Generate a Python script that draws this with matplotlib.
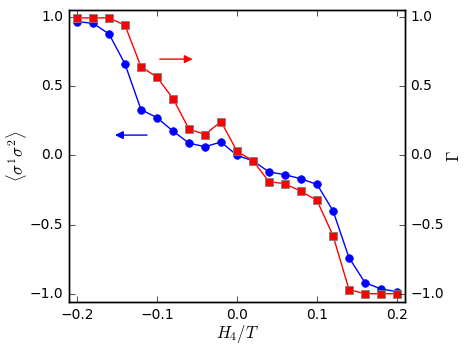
import matplotlib
matplotlib.use("Agg")
import matplotlib.pyplot as plt

x = [-0.2, -0.18, -0.16, -0.14, -0.12, -0.1, -0.08, -0.06, -0.04, -0.02, 0.0,
     0.02, 0.04, 0.06, 0.08, 0.1, 0.12, 0.14, 0.16, 0.18, 0.2]
sigma = [0.966, 0.954, 0.877, 0.66, 0.33, 0.272, 0.175, 0.088, 0.062, 0.096, 0.0,
         -0.04, -0.12, -0.14, -0.17, -0.21, -0.40, -0.74, -0.92, -0.966, -0.985]
gamma = [0.993, 0.993, 0.993, 0.94, 0.64, 0.565, 0.41, 0.19, 0.15, 0.244, 0.03,
         -0.04, -0.19, -0.206, -0.26, -0.326, -0.58, -0.97, -1.0, -1.0, -1.0]

plt.style.use("classic")
fig = plt.figure(figsize=(4.69, 3.52), dpi=100)
ax = fig.add_axes([69/469, 1 - 302/352, (405 - 69)/469, (302 - 10)/352])
ax.plot(x, sigma, "-o", color="blue", mfc="blue", mec="blue", ms=5.5, lw=1)
ax.set_xlim(-0.21, 0.21)
ax.set_ylim(-1.06, 1.05)
ax.set_xticks([-0.2, -0.1, 0.0, 0.1, 0.2])
ax.set_yticks([-1.0, -0.5, 0.0, 0.5, 1.0])
ax.set_xlabel(r"$H_4/T$", fontsize=12, labelpad=1)
ax.set_ylabel(r"$\langle\sigma^1\sigma^2\rangle$", fontsize=12)
ax.yaxis.set_label_coords(-0.12, 0.5)
ax.tick_params(labelsize=10)

ax2 = ax.twinx()
ax2.plot(x, gamma, "-s", color="red", mfc="red", mec="0.5", ms=6, lw=1, mew=0.6)
ax2.set_ylim(-1.06, 1.05)
ax2.set_yticks([-1.0, -0.5, 0.0, 0.5, 1.0])
ax2.set_ylabel(r"$\Gamma$", fontsize=12)
ax2.yaxis.set_label_coords(1.119, 0.5)
ax2.tick_params(labelsize=10)
ax2.set_xlim(-0.21, 0.21)

ax2.annotate("", xy=(-0.052, 0.695), xytext=(-0.1, 0.695),
             arrowprops=dict(arrowstyle="-|>", color="red", lw=1, mutation_scale=12))
ax2.annotate("", xy=(-0.156, 0.146), xytext=(-0.109, 0.146),
             arrowprops=dict(arrowstyle="-|>", color="blue", lw=1, mutation_scale=12))

fig.savefig("out.png", dpi=100)
